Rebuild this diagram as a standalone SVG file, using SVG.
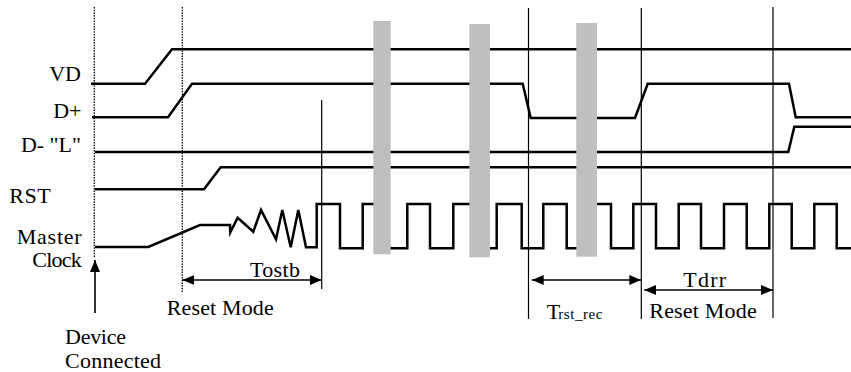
<svg xmlns="http://www.w3.org/2000/svg" width="851" height="372" viewBox="0 0 851 372" font-family="'Liberation Serif', 'DejaVu Serif', serif">
<style>
.sig{fill:none;stroke:#000;stroke-width:2.5;stroke-linejoin:miter}
.thin{fill:none;stroke:#000;stroke-width:1.2}
.dot{fill:none;stroke:#000;stroke-width:1.3;stroke-dasharray:1.5 1.2}
.bar{fill:#BFBFBF;stroke:none}
.dim{fill:none;stroke:#000;stroke-width:1.6}
.t{font-family:'Liberation Serif', 'DejaVu Serif', serif;font-size:22px;fill:#000}
.sub{font-size:15px}
</style>
<defs>
<marker id="ah" viewBox="0 0 12 10" refX="12" refY="5" markerWidth="12" markerHeight="10" markerUnits="userSpaceOnUse" orient="auto-start-reverse">
<path d="M0,0 L12,5 L0,10 Z" fill="#000"/>
</marker>
</defs>
<rect width="851" height="372" fill="#fff"/>

<g id="guides">
<line class="dot" x1="94.3" y1="7" x2="94.3" y2="258"/>
<line class="dot" x1="182.3" y1="7" x2="182.3" y2="292"/>
<line class="thin" x1="321.7" y1="100" x2="321.7" y2="289"/>
<line class="thin" x1="528.5" y1="8" x2="528.5" y2="319"/>
<line class="thin" x1="641.3" y1="8" x2="641.3" y2="319"/>
<line class="thin" x1="773" y1="7" x2="773" y2="318"/>
</g>

<g id="sig-VD">
<path class="sig" d="M91,83.7 L145,83.7 L172,49.3 L851,49.3"/>
<text class="t" x="81" y="81" text-anchor="end">VD</text>
</g>
<g id="sig-Dplus">
<path class="sig" d="M92,117.3 L168,117.3 L192,83.7 L522.7,83.7 L530.7,118 L635,118 L647.7,83.7 L789,83.7 L795.7,117.3 L851,117.3"/>
<text class="t" x="81.5" y="118" text-anchor="end">D+</text>
</g>
<g id="sig-Dminus">
<path class="sig" d="M95,152 L788.3,152 L794.3,126.7 L851,126.7"/>
<text class="t" x="81" y="152" text-anchor="end">D- "L"</text>
</g>
<g id="sig-RST">
<path class="sig" d="M95,189.3 L204,189.3 L220.7,167.3 L851,167.3"/>
<text class="t" x="9.3" y="202.5" textLength="41.4">RST</text>
</g>
<g id="sig-Clock">
<path class="sig" d="M95,247 L148.3,247 L200,225 L230,225 L230.3,232.3 L237.7,217.7 L253.3,231.7 L261,210 L276,239.3 L282.3,210 L290.7,247.3 L298.3,210 L306,247.3 L316.7,247.3 L316.7,204 L340,204 L340,248.3 L362.7,248.3 L362.7,204 L380,204 L380,248.3 L407.3,248.3 L407.3,204 L430,204 L430,248.3 L453.3,248.3 L453.3,204 L478,204 L478,248.3 L496.7,248.3 L496.7,204 L521.7,204 L521.7,248.3 L543.3,248.3 L543.3,204 L566.7,204 L566.7,248.3 L585,248.3 L585,204 L611,204 L611,248.3 L633.3,248.3 L633.3,204 L656,204 L656,248.3 L678.7,248.3 L678.7,204 L701,204 L701,248.3 L724,248.3 L724,204 L746.7,204 L746.7,248.3 L769.3,248.3 L769.3,204 L791.7,204 L791.7,248.3 L814.3,248.3 L814.3,204 L836.7,204 L836.7,248.3 L851,248.3"/>
<text class="t" x="16.7" y="244" textLength="65">Master</text>
<text class="t" x="32.3" y="267.3" textLength="49.4">Clock</text>
</g>

<g id="bars">
<rect class="bar" x="373.3" y="21" width="17.4" height="233.3"/>
<rect class="bar" x="469.3" y="24" width="20.7" height="233.3"/>
<rect class="bar" x="576.3" y="23" width="20.7" height="233.7"/>
</g>

<g id="connectors">
<line class="dim" x1="95" y1="313" x2="95" y2="260" marker-end="url(#ah)"/>
<line class="dim" x1="182.3" y1="280" x2="321.7" y2="280" marker-start="url(#ah)" marker-end="url(#ah)"/>
<line class="dim" x1="531.7" y1="280" x2="641.3" y2="280" marker-start="url(#ah)" marker-end="url(#ah)"/>
<line class="dim" x1="644.3" y1="290" x2="773" y2="290" marker-start="url(#ah)" marker-end="url(#ah)"/>
</g>

<g id="labels">
<text class="t" x="65" y="344" textLength="61">Device</text>
<text class="t" x="65" y="368.3" textLength="96">Connected</text>
<text class="t" x="166.7" y="315" textLength="107">Reset Mode</text>
<text class="t" x="250" y="276.7" textLength="50">Tostb</text>
<text class="t" x="546.7" y="319.3">T</text>
<text class="t sub" x="558.3" y="319.3" textLength="44">rst_rec</text>
<text class="t" x="683.3" y="286.7" textLength="42.7">Tdrr</text>
<text class="t" x="649.3" y="318.3" textLength="107.4">Reset Mode</text>
</g>
</svg>
